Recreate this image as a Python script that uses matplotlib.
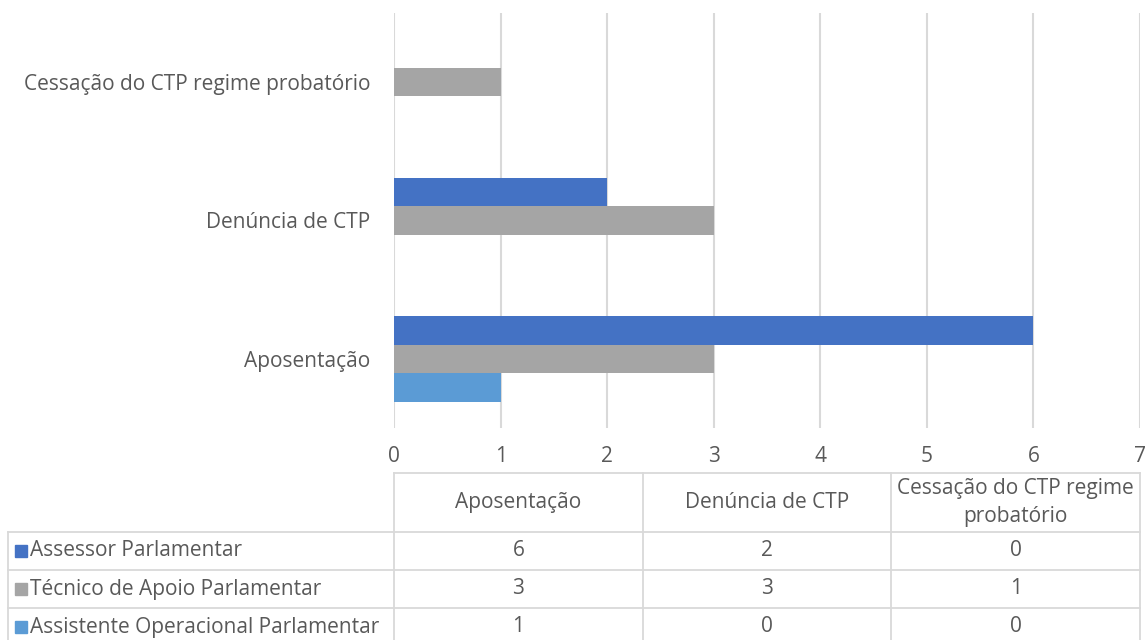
import matplotlib
matplotlib.use("Agg")
import matplotlib.pyplot as plt
import numpy as np
from matplotlib.transforms import blended_transform_factory

categories = ["Aposentação", "Denúncia de CTP", "Cessação do CTP regime probatório"]
table_headers = ["Aposentação", "Denúncia de CTP", "Cessação do CTP regime\nprobatório"]
series_names = ["Assessor Parlamentar", "Técnico de Apoio Parlamentar", "Assistente Operacional Parlamentar"]
assessor = [6, 2, 0]
tecnico = [3, 3, 1]
assistente = [1, 0, 0]
colors = ["#4472C4", "#A5A5A5", "#5B9BD5"]

TXT = "#595959"
GRID = "#D9D9D9"
FS = 15
plt.rcParams["font.family"] = ["Open Sans", "DejaVu Sans"]

W, H = 1148, 640
fig = plt.figure(figsize=(W / 100, H / 100), dpi=100)
ax = fig.add_axes([394 / W, 1 - 428 / H, 746 / W, 415 / H])

y = np.arange(len(categories))
h = 0.207
series = [assessor, tecnico, assistente]
for i, vals in enumerate(series):
    ax.barh(y + (1 - i) * h, vals, height=h, color=colors[i], zorder=3)

ax.set_xlim(0, 7)
ax.set_ylim(-0.5, 2.5)
ax.set_xticks(range(8))
ax.xaxis.grid(True, color=GRID, linewidth=1.5, zorder=0)
for s in ax.spines.values():
    s.set_visible(False)
ax.tick_params(axis="both", length=0, colors=TXT, labelsize=FS)
ax.tick_params(axis="x", pad=13)
ax.tick_params(axis="y", pad=17)
ax.set_yticks(y)
ax.set_yticklabels(categories)

# data table below the chart
tr = blended_transform_factory(ax.transData, fig.transFigure)
fy = lambda p: 1 - p / H
row_edges = [473, 532, 570, 608, 646]
col_edges = np.linspace(0, 7, len(categories) + 1)
lbl_left = 8 / W
lbl_right = 394 / W

kw = dict(color=GRID, linewidth=1.3, clip_on=False)
ax.plot([0, 7], [fy(row_edges[0])] * 2, transform=tr, **kw)
for r in row_edges[1:]:
    fig.add_artist(plt.Line2D([lbl_left, lbl_right], [fy(r)] * 2, **kw))
    ax.plot([0, 7], [fy(r)] * 2, transform=tr, **kw)
for c in col_edges:
    ax.plot([c, c], [fy(row_edges[0]), fy(row_edges[-1])], transform=tr, **kw)
fig.add_artist(plt.Line2D([lbl_left] * 2, [fy(row_edges[1]), fy(row_edges[-1])], **kw))

for j, hd in enumerate(table_headers):
    cx = (col_edges[j] + col_edges[j + 1]) / 2
    ax.text(cx, fy((row_edges[0] + row_edges[1]) / 2), hd, transform=tr,
            ha="center", va="center", color=TXT, fontsize=FS, linespacing=1.4)

for i, name in enumerate(series_names):
    yc = fy((row_edges[i + 1] + row_edges[i + 2]) / 2)
    fig.add_artist(plt.Rectangle((15 / W, yc - 6 / H), 12 / W, 12 / H,
                                 color=colors[i], transform=fig.transFigure))
    fig.text(30 / W, yc, name, ha="left", va="center", color=TXT, fontsize=FS)
    for j, v in enumerate(series[i]):
        cx = (col_edges[j] + col_edges[j + 1]) / 2
        ax.text(cx, yc, str(v), transform=tr, ha="center", va="center",
                color=TXT, fontsize=FS)

fig.savefig("out.png", dpi=100)
